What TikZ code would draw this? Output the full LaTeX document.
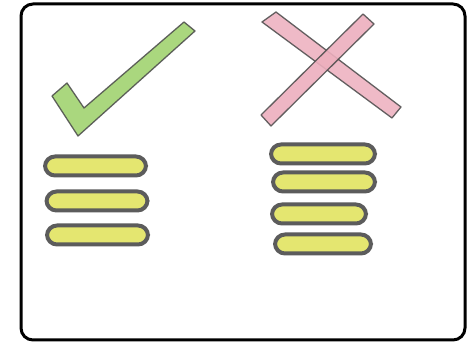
\documentclass[tikz,border=0pt]{standalone}
\usetikzlibrary{decorations.pathmorphing}
\definecolor{pencil}{HTML}{4A4A4A}
\definecolor{checkgreen}{HTML}{9CD068}
\definecolor{crosspink}{HTML}{EDAFBE}
\definecolor{baryellow}{HTML}{E4E670}
\tikzset{
  frame/.style={draw=black, line width=3pt, rounded corners=12pt},
  sketch/.style={draw=pencil, line width=1.3pt, line join=round, opacity=0.85},
  bar/.style={draw=pencil!90, line width=4pt, fill=baryellow, rounded corners=10pt,
    minimum height=19pt, inner sep=0pt},
}
\begin{document}
\begin{tikzpicture}[x=1pt, y=-1pt]
\useasboundingbox (0,0) rectangle (472,344);
\fill[white] (0,0) rectangle (472,344);
\draw[frame] (21,4) rectangle (465,340);
% check mark
\filldraw[sketch, fill=checkgreen]
  (52,96) -- (67,83) -- (84,108) -- (184,22) -- (195,31) -- (78,136) -- cycle;
% cross
\filldraw[sketch, fill=crosspink]
  (262,22) -- (276,12) -- (401,107) -- (392,118) -- cycle;
\filldraw[sketch, fill=crosspink, fill opacity=0.9]
  (363,14) -- (374,24) -- (271,126) -- (261,115) -- cycle;
% left bars
\node[bar, minimum width=101pt] (l1) at (95.5,166) {};
\node[bar, minimum width=101pt] (l2) at (97,201) {};
\node[bar, minimum width=101pt] (l3) at (97.5,235) {};
% right bars
\node[bar, minimum width=104pt] (r1) at (323,154) {};
\node[bar, minimum width=102pt] (r2) at (324,182) {};
\node[bar, minimum width=94pt] (r3) at (319,214) {};
\node[bar, minimum width=96pt] (r4) at (323,244) {};
\end{tikzpicture}
\end{document}
